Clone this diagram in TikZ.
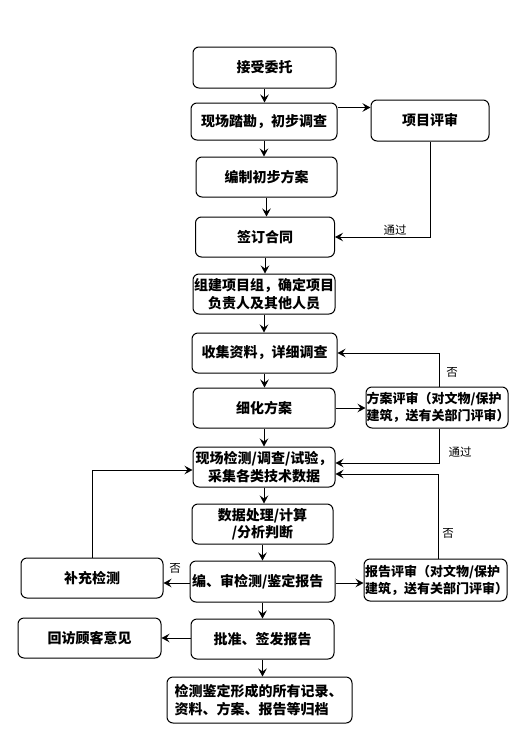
\documentclass[tikz,border=0pt]{standalone}
\usepackage{fontspec}
\setmainfont{Noto Sans CJK SC}
\usetikzlibrary{arrows.meta,calc}
\begin{document}
\begin{tikzpicture}[x=1pt,y=-1pt,
 box/.style={draw, line width=1pt, rounded corners=6pt, inner sep=0pt, font=\fontsize{14}{17.5}\selectfont\bfseries, align=center, minimum width=142pt, minimum height=40pt},
 rev/.style={box, font=\fontsize{13}{17}\selectfont\bfseries, align=left, text width=141pt},
 arr/.style={line width=1pt, -{Stealth[length=8pt,width=8.5pt,inset=3pt]}},
 lbl/.style={font=\fontsize{11.5}{13}\selectfont, inner sep=0pt}]
\useasboundingbox (0,0) rectangle (528,750);
\node[box, minimum width=143pt, minimum height=41pt] (b1) at (264.5,67.5) {接受委托};
\node[box, minimum width=146pt, minimum height=37pt] (b2) at (264,121.5) {现场踏勘，初步调查};
\node[box, minimum width=118pt, minimum height=41pt] (b3) at (430,120.5) {项目评审};
\node[box, minimum width=141pt] (b4) at (266.5,177) {编制初步方案};
\node[box, minimum width=139pt] (b5) at (265,237) {签订合同};
\node[box] (b6) at (264,294) {组建项目组，确定项目\\负责人及其他人员};
\node[box, minimum width=145pt] (b7) at (264.5,353) {收集资料，详细调查};
\node[box] (b8) at (264,408) {细化方案};
\node[rev, minimum width=142pt, minimum height=41pt] (b9) at (437,407.5) {方案评审（对文物/保护\\建筑，送有关部门评审）};
\node[box] (b10) at (264,467) {现场检测/调查/试验，\\采集各类技术数据};
\node[box, minimum width=141pt] (b11) at (262.5,524) {数据处理/计算\\/分析判断};
\node[box, minimum width=145pt, minimum height=41pt, align=left, text width=141pt] (b12) at (262.5,581.5) {编、审检测/鉴定报告};
\node[box] (b13) at (92,578) {补充检测};
\node[rev, minimum width=143pt, minimum height=42pt] (b14) at (435.5,580) {报告评审（对文物/保护\\建筑，送有关部门评审）};
\node[box, minimum width=143pt] (b15) at (89.5,638) {回访顾客意见};
\node[box, minimum width=143pt] (b16) at (262.5,639) {批准、签发报告};
\node[box, minimum width=185pt, minimum height=46pt, align=left, text width=170pt] (b17) at (259.5,700) {检测鉴定形成的所有记录、\\资料、方案、报告等归档};
% vertical flow
\draw[arr] (b1.south) -- (b1.south |- b2.north);
\draw[arr] (b2.south) -- (b2.south |- b4.north);
\draw[arr] (b4.south) -- (b4.south |- b5.north);
\draw[arr] (b5.south) -- (b5.south |- b6.north);
\draw[arr] (b6.south) -- (b6.south |- b7.north);
\draw[arr] (b7.south) -- (b7.south |- b8.north);
\draw[arr] (b8.south) -- (b8.south |- b10.north);
\draw[arr] (b10.south) -- (b10.south |- b11.north);
\draw[arr] (b11.south) -- (b11.south |- b12.north);
\draw[arr] (b12.south) -- (b12.south |- b16.north);
\draw[arr] (b16.south) -- (b16.south |- b17.north);
% side branches
\coordinate (c23) at ($(b2.north east)+(0,5)$);
\draw[arr] (c23) -- (b3.west |- c23);
\draw[arr] (b3.south) |- (b5.east);
\node[lbl] (l1) at (395,230) {通过};
\draw[arr] (b8.east) -- (b9.west |- b8.east);
\draw[arr] ([xshift=2pt]b9.north) |- (b7.east);
\node[lbl] (l2) at (452,372) {否};
\draw[arr] ([xshift=2pt]b9.south) |- ([yshift=4pt]b10.east);
\node[lbl] (l3) at (460,452) {通过};
\draw[arr] ([xshift=2.5pt]b14.north) |- ([yshift=-7pt]b10.east);
\node[lbl] (l4) at (448,533) {否};
\draw[arr] (b13.north) |- ([yshift=-3pt]b10.west);
\coordinate (c12w) at ($(b12.west)+(0,1.5)$);
\coordinate (c12e) at ($(b12.east)+(0,1.5)$);
\coordinate (c16w) at ($(b16.west)+(0,-1)$);
\draw[arr] (c12w) -- (b13.east |- c12w);
\node[lbl] (l5) at (175,568) {否};
\draw[arr] (c12e) -- (b14.west |- c12e);
\draw[arr] (c16w) -- (b15.east |- c16w);
\end{tikzpicture}
\end{document}
